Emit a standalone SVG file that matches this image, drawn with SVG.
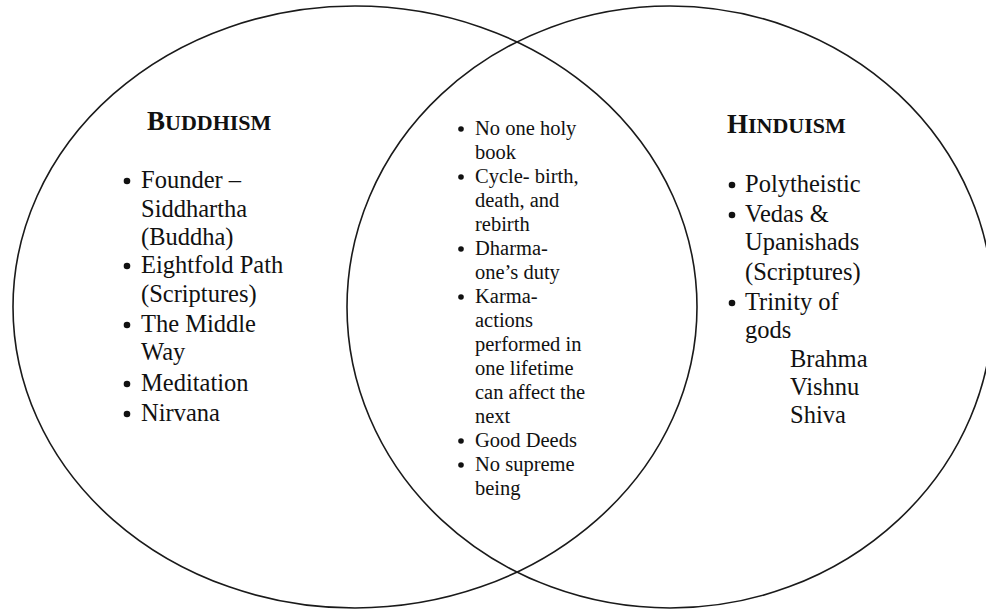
<svg xmlns="http://www.w3.org/2000/svg" width="986" height="611" viewBox="0 0 986 611">
<style>
.ring{fill:none;stroke:#1a1a1a;stroke-width:1.6}
text{font-family:"Liberation Serif","Times New Roman",serif;fill:#111}
.side{font-size:24.5px}
.mid{font-size:20.5px}
.title{font-weight:bold}
.cap{font-size:27px}
.sc{font-size:22px}
.dot{fill:#111}
</style>
<rect width="986" height="611" fill="#fff"/>
<g id="circles">
<ellipse id="buddhism-circle" class="ring" cx="355" cy="307" rx="342" ry="301"/>
<ellipse id="hinduism-circle" class="ring" cx="670" cy="307" rx="323" ry="301"/>
</g>
<g id="buddhism">
<text class="title" x="147" y="130"><tspan class="cap">B</tspan><tspan class="sc">UDDHISM</tspan></text>
<g class="dot">
<circle cx="127" cy="181" r="3.3"/>
<circle cx="127" cy="266" r="3.3"/>
<circle cx="127" cy="325" r="3.3"/>
<circle cx="127" cy="384" r="3.3"/>
<circle cx="127" cy="414" r="3.3"/>
</g>
<g class="side">
<text x="141" y="188">Founder –</text>
<text x="141" y="217">Siddhartha</text>
<text x="141" y="245">(Buddha)</text>
<text x="141" y="273">Eightfold Path</text>
<text x="141" y="302">(Scriptures)</text>
<text x="141" y="332">The Middle</text>
<text x="141" y="360">Way</text>
<text x="141" y="391">Meditation</text>
<text x="141" y="421">Nirvana</text>
</g>
</g>
<g id="shared">
<g class="dot">
<circle cx="461" cy="129" r="2.8"/>
<circle cx="461" cy="177" r="2.8"/>
<circle cx="461" cy="249" r="2.8"/>
<circle cx="461" cy="297" r="2.8"/>
<circle cx="461" cy="441" r="2.8"/>
<circle cx="461" cy="465" r="2.8"/>
</g>
<g class="mid">
<text x="475" y="135">No one holy</text>
<text x="475" y="159">book</text>
<text x="475" y="183">Cycle- birth,</text>
<text x="475" y="207">death, and</text>
<text x="475" y="231">rebirth</text>
<text x="475" y="255">Dharma-</text>
<text x="475" y="279">one’s duty</text>
<text x="475" y="303">Karma-</text>
<text x="475" y="327">actions</text>
<text x="475" y="351">performed in</text>
<text x="475" y="375">one lifetime</text>
<text x="475" y="399">can affect the</text>
<text x="475" y="423">next</text>
<text x="475" y="447">Good Deeds</text>
<text x="475" y="471">No supreme</text>
<text x="475" y="495">being</text>
</g>
</g>
<g id="hinduism">
<text class="title" x="727" y="133"><tspan class="cap">H</tspan><tspan class="sc">INDUISM</tspan></text>
<g class="dot">
<circle cx="732" cy="185" r="3.3"/>
<circle cx="732" cy="215" r="3.3"/>
<circle cx="732" cy="303" r="3.3"/>
</g>
<g class="side">
<text x="745" y="192">Polytheistic</text>
<text x="745" y="222">Vedas &amp;</text>
<text x="745" y="250">Upanishads</text>
<text x="745" y="280">(Scriptures)</text>
<text x="745" y="310">Trinity of</text>
<text x="745" y="338">gods</text>
<text x="790" y="367">Brahma</text>
<text x="790" y="395">Vishnu</text>
<text x="790" y="423">Shiva</text>
</g>
</g>
</svg>
